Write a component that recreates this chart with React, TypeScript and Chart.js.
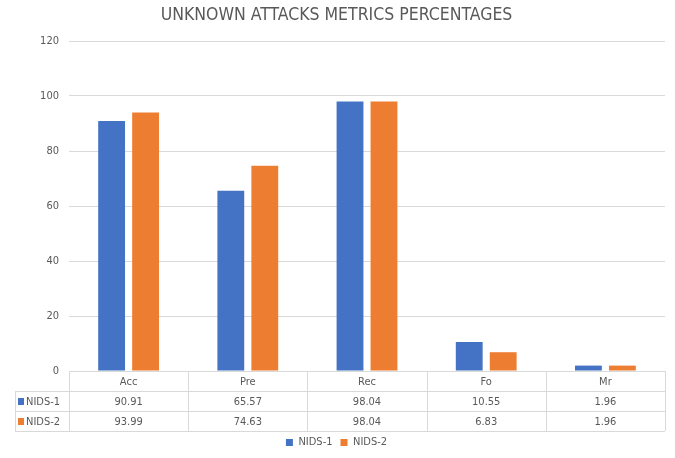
import React, { useEffect, useRef } from "react";
import { Chart, registerables } from "chart.js";

Chart.register(...registerables);

const title = "UNKNOWN ATTACKS METRICS PERCENTAGES";
const categories = ["Acc", "Pre", "Rec", "Fo", "Mr"];
const seriesNames = ["NIDS-1", "NIDS-2"];
const nids1 = [90.91, 65.57, 98.04, 10.55, 1.96];
const nids2 = [93.99, 74.63, 98.04, 6.83, 1.96];
const colors = ["#4472C4", "#ED7D31"];
const yMin = 0;
const yMax = 120;
const yStep = 20;

const FONT = "'Liberation Sans Narrow', 'DejaVu Sans Condensed', 'Liberation Sans', sans-serif";
const TEXT = "#595959";
const GRID = "#d9d9d9";
const ROW_H = 20;
const TABLE_LEFT = 15;

const tablePlugin = {
  id: "dataTable",
  afterDraw(chart: any) {
    const ctx = chart.ctx;
    const ca = chart.chartArea;
    const n = categories.length;
    const colW = (ca.right - ca.left) / n;
    const top = ca.bottom;
    ctx.save();
    ctx.strokeStyle = GRID;
    ctx.lineWidth = 1;
    const h = (x1: number, x2: number, y: number) => {
      ctx.beginPath();
      ctx.moveTo(x1, Math.round(y) + 0.5);
      ctx.lineTo(x2, Math.round(y) + 0.5);
      ctx.stroke();
    };
    const v = (x: number, y1: number, y2: number) => {
      ctx.beginPath();
      ctx.moveTo(Math.round(x) + 0.5, y1);
      ctx.lineTo(Math.round(x) + 0.5, y2);
      ctx.stroke();
    };
    h(ca.left, ca.right, top);
    h(TABLE_LEFT, ca.right, top + ROW_H);
    h(TABLE_LEFT, ca.right, top + ROW_H * 2);
    h(TABLE_LEFT, ca.right, top + ROW_H * 3);
    for (let i = 0; i <= n; i++) v(ca.left + colW * i, top, top + ROW_H * 3);
    v(TABLE_LEFT, top + ROW_H, top + ROW_H * 3);

    ctx.fillStyle = TEXT;
    ctx.font = `11px ${FONT}`;
    ctx.textAlign = "center";
    ctx.textBaseline = "middle";
    const x = chart.scales.x;
    categories.forEach((c, i) => {
      const cx = x.getPixelForValue(i);
      ctx.fillText(c, cx, top + ROW_H / 2 + 1);
      ctx.fillText(nids1[i].toFixed(2), cx, top + ROW_H * 1.5 + 1);
      ctx.fillText(nids2[i].toFixed(2), cx, top + ROW_H * 2.5 + 1);
    });
    seriesNames.forEach((s, r) => {
      const cy = top + ROW_H * (1.5 + r);
      ctx.fillStyle = colors[r];
      ctx.fillRect(TABLE_LEFT + 3, cy - 3, 6, 7);
      ctx.fillStyle = TEXT;
      ctx.textAlign = "left";
      ctx.fillText(s, TABLE_LEFT + 11, cy + 1);
    });
    ctx.restore();
  },
};

export default function App() {
  const ref = useRef<HTMLCanvasElement>(null);
  useEffect(() => {
    document.body.style.margin = "0";
    const chart = new Chart(ref.current!, {
      type: "bar",
      data: {
        labels: categories,
        datasets: [
          { label: seriesNames[0], data: nids1, backgroundColor: colors[0] },
          { label: seriesNames[1], data: nids2, backgroundColor: colors[1] },
        ],
      },
      options: {
        animation: false,
        responsive: false,
        devicePixelRatio: 1,
        layout: { padding: { left: 8, right: 10, top: 0, bottom: 0 } },
        datasets: { bar: { categoryPercentage: 0.57, barPercentage: 0.79 } },
        plugins: {
          title: {
            display: true,
            text: title,
            color: TEXT,
            font: { family: FONT, size: 17.5, weight: "normal" },
            padding: { top: 5, bottom: 15 },
          },
          legend: {
            position: "bottom",
            labels: {
              color: TEXT,
              font: { family: FONT, size: 11 },
              boxWidth: 7,
              boxHeight: 7,
              padding: 8,
            },
          },
          tooltip: { enabled: false },
        },
        scales: {
          x: {
            grid: { display: false },
            border: { display: false },
            ticks: { display: false },
            afterFit: (s: any) => {
              s.height = 58;
            },
          },
          y: {
            min: yMin,
            max: yMax,
            ticks: {
              stepSize: yStep,
              color: TEXT,
              font: { family: FONT, size: 11 },
              padding: 10,
            },
            grid: { color: GRID, drawTicks: false },
            border: { display: false },
            afterFit: (s: any) => {
              s.width = 61;
            },
          },
        },
      },
      plugins: [tablePlugin],
    });
    return () => chart.destroy();
  }, []);
  return (
    <div style={{ position: "absolute", left: 0, top: 0, width: 675, height: 458, background: "#fff" }}>
      <canvas ref={ref} width={675} height={458} />
    </div>
  );
}
